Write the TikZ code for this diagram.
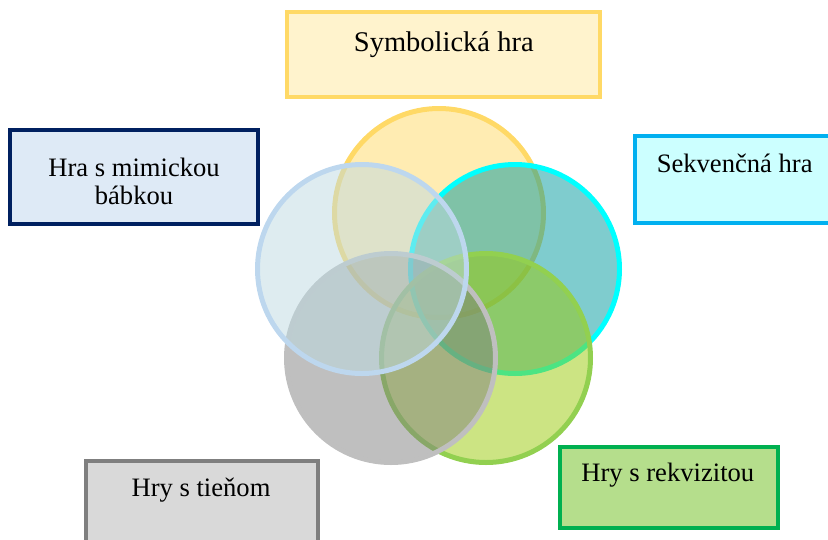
\documentclass[tikz,border=0pt]{standalone}
\usepackage{fontspec}
\setmainfont{Liberation Serif}
\definecolor{yelB}{RGB}{255,217,102}
\definecolor{yelF}{RGB}{255,243,205}
\definecolor{cyaB}{RGB}{0,255,255}
\definecolor{cyaF}{RGB}{0,153,157}
\definecolor{greB}{RGB}{146,208,80}
\definecolor{greF}{RGB}{153,202,8}
\definecolor{gryB}{RGB}{191,191,191}
\definecolor{gryF}{RGB}{128,128,128}
\definecolor{bluB}{RGB}{189,215,238}
\definecolor{bluF}{RGB}{189,218,226}
\definecolor{navy}{RGB}{0,32,96}
\definecolor{mimF}{RGB}{222,234,246}
\definecolor{seqB}{RGB}{0,176,240}
\definecolor{seqF}{RGB}{204,255,255}
\definecolor{rekB}{RGB}{0,176,80}
\definecolor{rekF}{RGB}{181,222,140}
\definecolor{tieB}{RGB}{127,127,127}
\definecolor{tieF}{RGB}{217,217,217}
\tikzset{
  ring/.style={line width=5pt, fill opacity=0.5},
  labelbox/.style={line width=4pt},
  lbl/.style={anchor=base, inner sep=0pt, font=\fontsize{26.6}{27.3}\selectfont, align=center},
}
\begin{document}
\begin{tikzpicture}[x=1pt,y=-1pt]
\useasboundingbox (0,0) rectangle (828,539);
\clip (0,0) rectangle (828,539);

% overlapping circles, drawn back to front
\path[ring, draw=yelB, fill=yelB] (439,213) circle[radius=104.5];
\path[ring, draw=cyaB, fill=cyaF] (515,269) circle[radius=104.5];
\path[ring, draw=greB, fill=greF] (486,358) circle[radius=104.5];
\path[ring, draw=gryB, fill=gryF] (391,358) circle[radius=104.5];
\path[ring, draw=bluB, fill=bluF] (362,269) circle[radius=104.5];

% label boxes
\draw[labelbox, draw=yelB, fill=yelF] (287,12) rectangle (600,97);
\draw[labelbox, draw=navy, fill=mimF] (10,130) rectangle (258,224);
\draw[labelbox, draw=seqB, fill=seqF] (635,136) rectangle (840,223);
\draw[labelbox, draw=rekB, fill=rekF] (560,447) rectangle (778,528);
\draw[labelbox, draw=tieB, fill=tieF] (86,461) rectangle (318,560);

% label texts (a two-line node sits on the baseline of its last line)
\node[lbl, font=\fontsize{28.5}{30}\selectfont] (sym) at (443.8,51) {Symbolická hra};
\node[lbl] (mim) at (134,204) {Hra s mimickou\\bábkou};
\node[lbl] (seq) at (734.7,172.7) {Sekvenčná hra};
\node[lbl] (rek) at (667.8,481) {Hry s rekvizitou};
\node[lbl] (tie) at (201,496.7) {Hry s tieňom};
\end{tikzpicture}
\end{document}
